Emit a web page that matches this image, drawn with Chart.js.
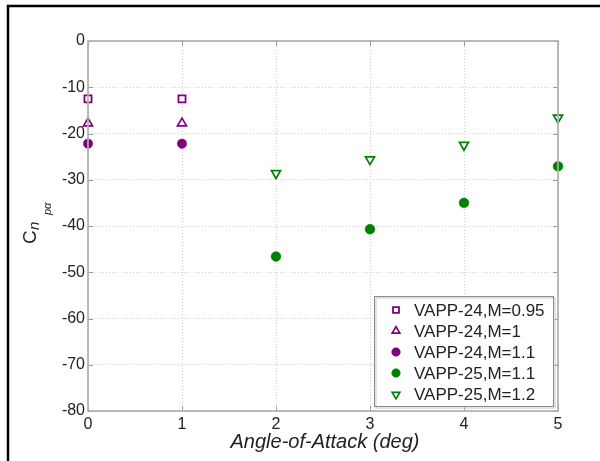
<!DOCTYPE html>
<html>
<head>
<meta charset="utf-8">
<script src="https://cdn.jsdelivr.net/npm/chart.js@4/dist/chart.umd.min.js"></script>
<style>
  html, body { margin: 0; padding: 0; background: #fff; }
  #chart { display: block; }
</style>
</head>
<body>
<canvas id="chart" width="600" height="461"></canvas>
<script>
// data
const angles24 = [0, 1];
const angles25 = [2, 3, 4, 5];
const vapp24M095 = [-12.5, -12.5];
const vapp24M1 = [-17.8, -17.8];
const vapp24M11 = [-22.2, -22.2];
const vapp25M11 = [-46.6, -40.7, -35.0, -27.1];
const vapp25M12 = [-28.6, -25.6, -22.5, -16.6];
const xTicks = [0, 1, 2, 3, 4, 5];
const yTicks = [0, -10, -20, -30, -40, -50, -60, -70, -80];

const PURPLE = "#800080";
const GREEN = "#008000";
const FONT = "'Liberation Sans', Arial, Helvetica, sans-serif";
const TEXT = "#222";

const toPoints = (xs, ys) => xs.map((x, i) => ({ x: x, y: ys[i] }));

const datasets = [
    {
        label: "VAPP-24,M=0.95",
        data: toPoints(angles24, vapp24M095),
        pointStyle: "rect", pointRadius: 5, borderWidth: 1.8,
        borderColor: PURPLE, backgroundColor: "#fff",
    },
    {
        label: "VAPP-24,M=1",
        data: toPoints(angles24, vapp24M1),
        pointStyle: "triangle", pointRadius: 5.2, borderWidth: 1.7,
        borderColor: PURPLE, backgroundColor: "#fff",
    },
    {
        label: "VAPP-24,M=1.1",
        data: toPoints(angles24, vapp24M11),
        pointStyle: "circle", pointRadius: 4.7, borderWidth: 0.5,
        borderColor: PURPLE, backgroundColor: PURPLE,
    },
    {
        label: "VAPP-25,M=1.1",
        data: toPoints(angles25, vapp25M11),
        pointStyle: "circle", pointRadius: 4.9, borderWidth: 0.5,
        borderColor: GREEN, backgroundColor: GREEN,
    },
    {
        label: "VAPP-25,M=1.2",
        data: toPoints(angles25, vapp25M12),
        pointStyle: "triangle", rotation: 180, pointRadius: 5.2, borderWidth: 1.7,
        borderColor: GREEN, backgroundColor: "#fff",
    },
];
datasets.forEach(ds => {
    ds.showLine = false;
    ds.clip = false;
    ds.pointHoverRadius = ds.pointRadius;
    ds.pointRotation = ds.rotation || 0;
});

// frame, inner tick marks, outer black border, axis titles and legend
const decorations = {
    id: "decorations",
    afterDraw(chart) {
        const ctx = chart.ctx;
        const a = chart.chartArea;
        const xs = chart.scales.x, ys = chart.scales.y;
        ctx.save();

        // tick marks inside the frame
        ctx.strokeStyle = "#9a9a9a";
        ctx.lineWidth = 1;
        ctx.beginPath();
        yTicks.forEach(v => {
            const py = Math.round(ys.getPixelForValue(v)) + 0.5;
            ctx.moveTo(a.left, py); ctx.lineTo(a.left + 5, py);
            ctx.moveTo(a.right, py); ctx.lineTo(a.right - 5, py);
        });
        xTicks.forEach(v => {
            const px = Math.round(xs.getPixelForValue(v)) + 0.5;
            ctx.moveTo(px, a.bottom); ctx.lineTo(px, a.bottom - 5);
            ctx.moveTo(px, a.top); ctx.lineTo(px, a.top + 5);
        });
        ctx.stroke();

        // frame
        ctx.strokeStyle = "#b0b0b0";
        ctx.lineWidth = 1.7;
        ctx.strokeRect(a.left, a.top, a.right - a.left, a.bottom - a.top);

        // outer black border (runs off the right and bottom)
        ctx.strokeStyle = "#000";
        ctx.lineWidth = 2.5;
        ctx.beginPath();
        ctx.moveTo(8, 470); ctx.lineTo(8, 6); ctx.lineTo(610, 6);
        ctx.stroke();

        // x axis title
        ctx.fillStyle = TEXT;
        ctx.font = "italic 20px " + FONT;
        ctx.textAlign = "center";
        ctx.textBaseline = "alphabetic";
        ctx.fillText("Angle-of-Attack (deg)", (a.left + a.right) / 2 + 2, 448);

        // y axis title: C_n_pα, rotated
        ctx.save();
        ctx.rotate(-Math.PI / 2);
        ctx.textAlign = "left";
        ctx.font = "19px " + FONT;
        ctx.fillText("C", -244, 36);
        ctx.font = "italic 15px " + FONT;
        ctx.fillText("n", -230, 39);
        ctx.font = "italic 11px " + FONT;
        ctx.fillText("pα", -215, 51);
        ctx.restore();

        // legend
        const box = { x: 374.5, y: 296.5, w: 179, h: 110 };
        ctx.fillStyle = "#fff";
        ctx.fillRect(box.x, box.y, box.w, box.h);
        ctx.strokeStyle = "#c8c8c8";
        ctx.lineWidth = 1;
        ctx.strokeRect(box.x + 1.5, box.y + 1.5, box.w, box.h);
        ctx.strokeStyle = "#8a8a8a";
        ctx.strokeRect(box.x, box.y, box.w, box.h);

        const rowY = [310, 331, 352, 373, 394.5];
        ctx.font = "17px " + FONT;
        ctx.textAlign = "left";
        ctx.textBaseline = "middle";
        chart.data.datasets.forEach((ds, i) => {
            ctx.fillStyle = ds.backgroundColor;
            ctx.strokeStyle = ds.borderColor;
            ctx.lineWidth = ds.borderWidth;
            Chart.helpers.drawPoint(ctx, {
                pointStyle: ds.pointStyle,
                rotation: ds.rotation || 0,
                radius: ds.pointStyle === "circle" ? 4.3 : ds.pointRadius - 0.8,
                borderWidth: ds.borderWidth,
            }, 396, rowY[i]);
            ctx.fillStyle = TEXT;
            ctx.fillText(ds.label, 414, rowY[i] + 1);
        });

        ctx.restore();
    }
};

new Chart(document.getElementById("chart"), {
    type: "scatter",
    data: { datasets: datasets },
    options: {
        responsive: false,
        animation: false,
        layout: { padding: { top: 41, right: 42, left: 0, bottom: 0 } },
        plugins: {
            legend: { display: false },
            tooltip: { enabled: false },
        },
        scales: {
            x: {
                type: "linear",
                min: 0, max: 5,
                afterFit: scale => { scale.height = 50; },
                afterBuildTicks: scale => { scale.ticks = xTicks.map(v => ({ value: v })); },
                ticks: {
                    color: TEXT,
                    font: { family: FONT, size: 16 },
                    padding: 4,
                    maxRotation: 0,
                },
                grid: { color: "#cfcfcf", drawTicks: false, lineWidth: 1 },
                border: { display: false, dash: [1, 2] },
            },
            y: {
                type: "linear",
                min: -80, max: 0,
                afterFit: scale => { scale.width = 88; },
                afterBuildTicks: scale => { scale.ticks = yTicks.map(v => ({ value: v })); },
                ticks: {
                    color: TEXT,
                    font: { family: FONT, size: 16 },
                    padding: 3,
                },
                grid: { color: "#cfcfcf", drawTicks: false, lineWidth: 1 },
                border: { display: false, dash: [1, 2] },
            },
        },
    },
    plugins: [decorations],
});
</script>
</body>
</html>
